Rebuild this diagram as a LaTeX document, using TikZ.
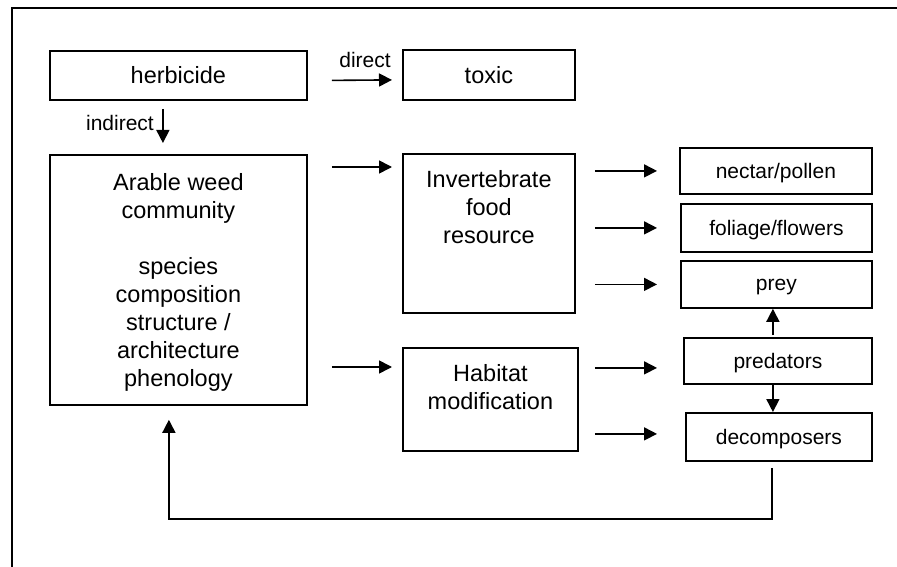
\documentclass[tikz,border=0pt]{standalone}
\usepackage{fontspec}
\setmainfont{Liberation Sans}
\usetikzlibrary{arrows.meta}
\tikzset{
  box/.style={draw, line width=1.8pt, inner sep=0pt, anchor=north west},
  bigtxt/.style={font=\fontsize{23.5}{28}\selectfont, align=center},
  smalltxt/.style={font=\fontsize{21}{25}\selectfont, align=center},
  arr/.style={line width=1.6pt, -{Triangle[length=13pt,width=13pt]}},
  frame/.style={line width=2.2pt}
}
\begin{document}
\begin{tikzpicture}[x=1pt,y=-1pt]
\useasboundingbox (0,0) rectangle (897,567);
\draw[frame] (897,8) -- (12,8) -- (12,567);

% left / middle boxes
\node[box, bigtxt, minimum width=257pt, minimum height=49pt] (herb) at (49,50) {herbicide};
\node[box, bigtxt, minimum width=172pt, minimum height=50pt] (toxic) at (402,49) {toxic};
\node[box, minimum width=257pt, minimum height=250pt,
  label={[name=arabletxt, bigtxt, anchor=north, inner sep=0pt, yshift=-19pt]north:{Arable weed\\community\\[28pt]species\\composition\\structure /\\architecture\\phenology}}] (arable) at (49,154) {};
\node[box, minimum width=172pt, minimum height=159pt,
  label={[name=invtxt, bigtxt, anchor=north, inner sep=0pt, yshift=-17pt]north:{Invertebrate\\food\\resource}}] (inv) at (402,153) {};
\node[box, minimum width=175pt, minimum height=103pt,
  label={[name=habtxt, bigtxt, anchor=north, inner sep=0pt, yshift=-17pt]north:{Habitat\\modification}}] (hab) at (402,347) {};

% right boxes
\node[box, smalltxt, minimum width=192pt, minimum height=46pt, text depth=-1pt] (nec) at (679,147) {nectar/pollen};
\node[box, smalltxt, minimum width=191pt, minimum height=48pt, text depth=-1pt] (fol) at (680,203) {foliage/flowers};
\node[box, smalltxt, minimum width=191pt, minimum height=47pt, text depth=-1pt] (prey) at (680,260) {prey};
\node[box, smalltxt, minimum width=188pt, minimum height=46pt, text depth=-1pt] (pred) at (683,337) {predators};
\node[box, smalltxt, minimum width=186pt, minimum height=48pt, text depth=-1pt] (dec) at (685,412) {decomposers};

% labels
\node[smalltxt, inner sep=0pt] (lbldirect) at (365,60) {direct};
\node[smalltxt, inner sep=0pt, anchor=east] (lblindirect) at (154,123) {indirect};

% arrows
\draw[arr] ([xshift=24pt,yshift=-5pt]herb.east) -- ([xshift=-10pt,yshift=-5pt]toxic.west);
\draw[arr] ([xshift=-15.5pt,yshift=-8pt]herb.south) -- ([xshift=-15.5pt,yshift=11pt]arable.north);
\draw[arr] ([xshift=24pt,yshift=-13pt]arable.north east) -- ([xshift=-10pt,yshift=-14pt]inv.north west);
\draw[arr] ([xshift=24pt,yshift=-20pt]arable.east |- hab.north) -- ([xshift=-10pt,yshift=-20pt]hab.north west);

\draw[arr] ([xshift=19pt]inv.east |- nec.west) -- ([xshift=-22pt]nec.west);
\draw[arr] ([xshift=19pt]inv.east |- fol.west) -- ([xshift=-23pt]fol.west);
\draw[arr] ([xshift=19pt]inv.east |- prey.west) -- ([xshift=-23pt]prey.west);
\draw[arr] ([xshift=16pt,yshift=-7pt]hab.east |- pred.west) -- ([xshift=-26pt,yshift=-7pt]pred.west);
\draw[arr] ([xshift=16pt,yshift=3pt]hab.east |- dec.west) -- ([xshift=-28pt,yshift=3pt]dec.west);

\draw[arr] ([xshift=-5pt,yshift=2pt]pred.north) -- ([xshift=-5pt]pred.north |- prey.south);
\draw[arr] ([xshift=-5pt]pred.south) -- ([xshift=-5pt]pred.south |- dec.north);

\draw[arr] ([xshift=-7pt,yshift=-6pt]dec.south) -- ++(0,51) -| ([xshift=-9.5pt,yshift=-14pt]arable.south);
\end{tikzpicture}
\end{document}
